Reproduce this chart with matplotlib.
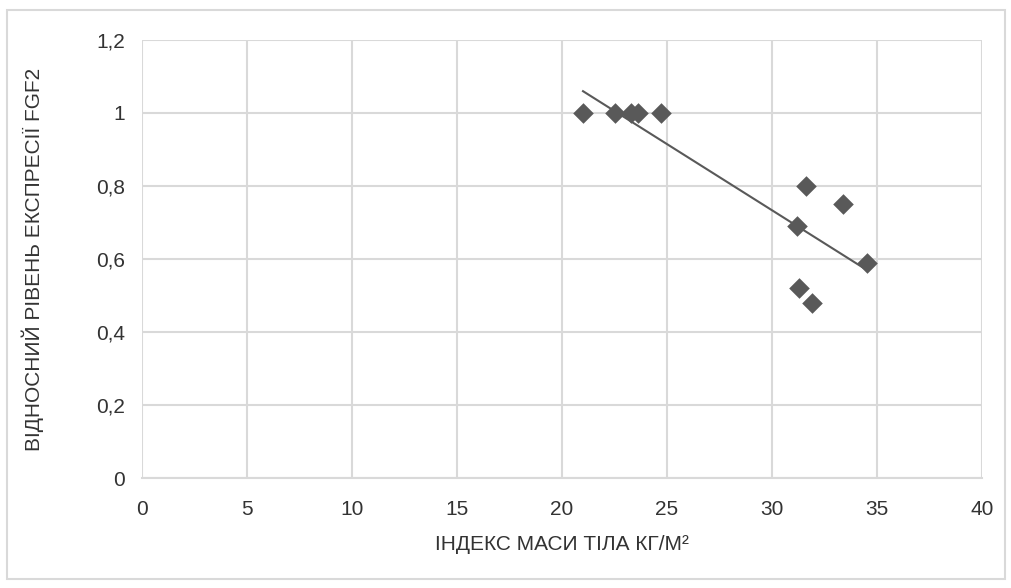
import matplotlib.pyplot as plt
import numpy as np
from matplotlib.patches import Rectangle

plt.rcParams["font.family"] = ["Liberation Sans", "DejaVu Sans"]

# data
bmi = [21.0, 22.5, 23.3, 23.6, 24.7, 31.2, 31.6, 31.3, 31.9, 33.4, 34.5]
fgf2 = [1.0, 1.0, 1.0, 1.0, 1.0, 0.69, 0.80, 0.52, 0.48, 0.75, 0.59]
x_ticks = [0, 5, 10, 15, 20, 25, 30, 35, 40]
y_ticks = [0, 0.2, 0.4, 0.6, 0.8, 1.0, 1.2]
y_tick_labels = ["0", "0,2", "0,4", "0,6", "0,8", "1", "1,2"]

fig = plt.figure(figsize=(10.12, 5.88), dpi=100)
ax = fig.add_axes([0.1403, 0.187, 0.8301, 0.745])

# outer chart border
fig.patches.append(Rectangle((0.007, 0.015), 0.986, 0.968, transform=fig.transFigure,
                             fill=False, edgecolor="#d9d9d9", linewidth=1.5))

ax.scatter(bmi, fgf2, marker="D", s=110, color="#595959", zorder=3, linewidths=0)

# linear trend line
k, b = np.polyfit(bmi, fgf2, 1)
xs = np.array([min(bmi), max(bmi)])
ax.plot(xs, k * xs + b, color="#595959", linewidth=1.5, zorder=2)

ax.set_xlim(0, 40)
ax.set_ylim(0, 1.2)
ax.set_xticks(x_ticks)
ax.set_yticks(y_ticks)
ax.set_yticklabels(y_tick_labels)
ax.grid(True, color="#d9d9d9", linewidth=1.5)
ax.set_axisbelow(True)
for side in ["top", "right", "left"]:
    ax.spines[side].set_visible(False)
ax.spines["bottom"].set_color("#d9d9d9")
ax.spines["bottom"].set_linewidth(1.5)
ax.tick_params(length=0, labelsize=15, colors="#333333")
ax.tick_params(axis="x", pad=16)
ax.tick_params(axis="y", pad=12)

ax.set_xlabel("ІНДЕКС МАСИ ТІЛА КГ/М²", fontsize=15, color="#333333", labelpad=11)
ax.set_ylabel("ВІДНОСНИЙ РІВЕНЬ ЕКСПРЕСІЇ FGF2", fontsize=15, color="#333333", labelpad=38)

fig.savefig("out.png", dpi=100)
